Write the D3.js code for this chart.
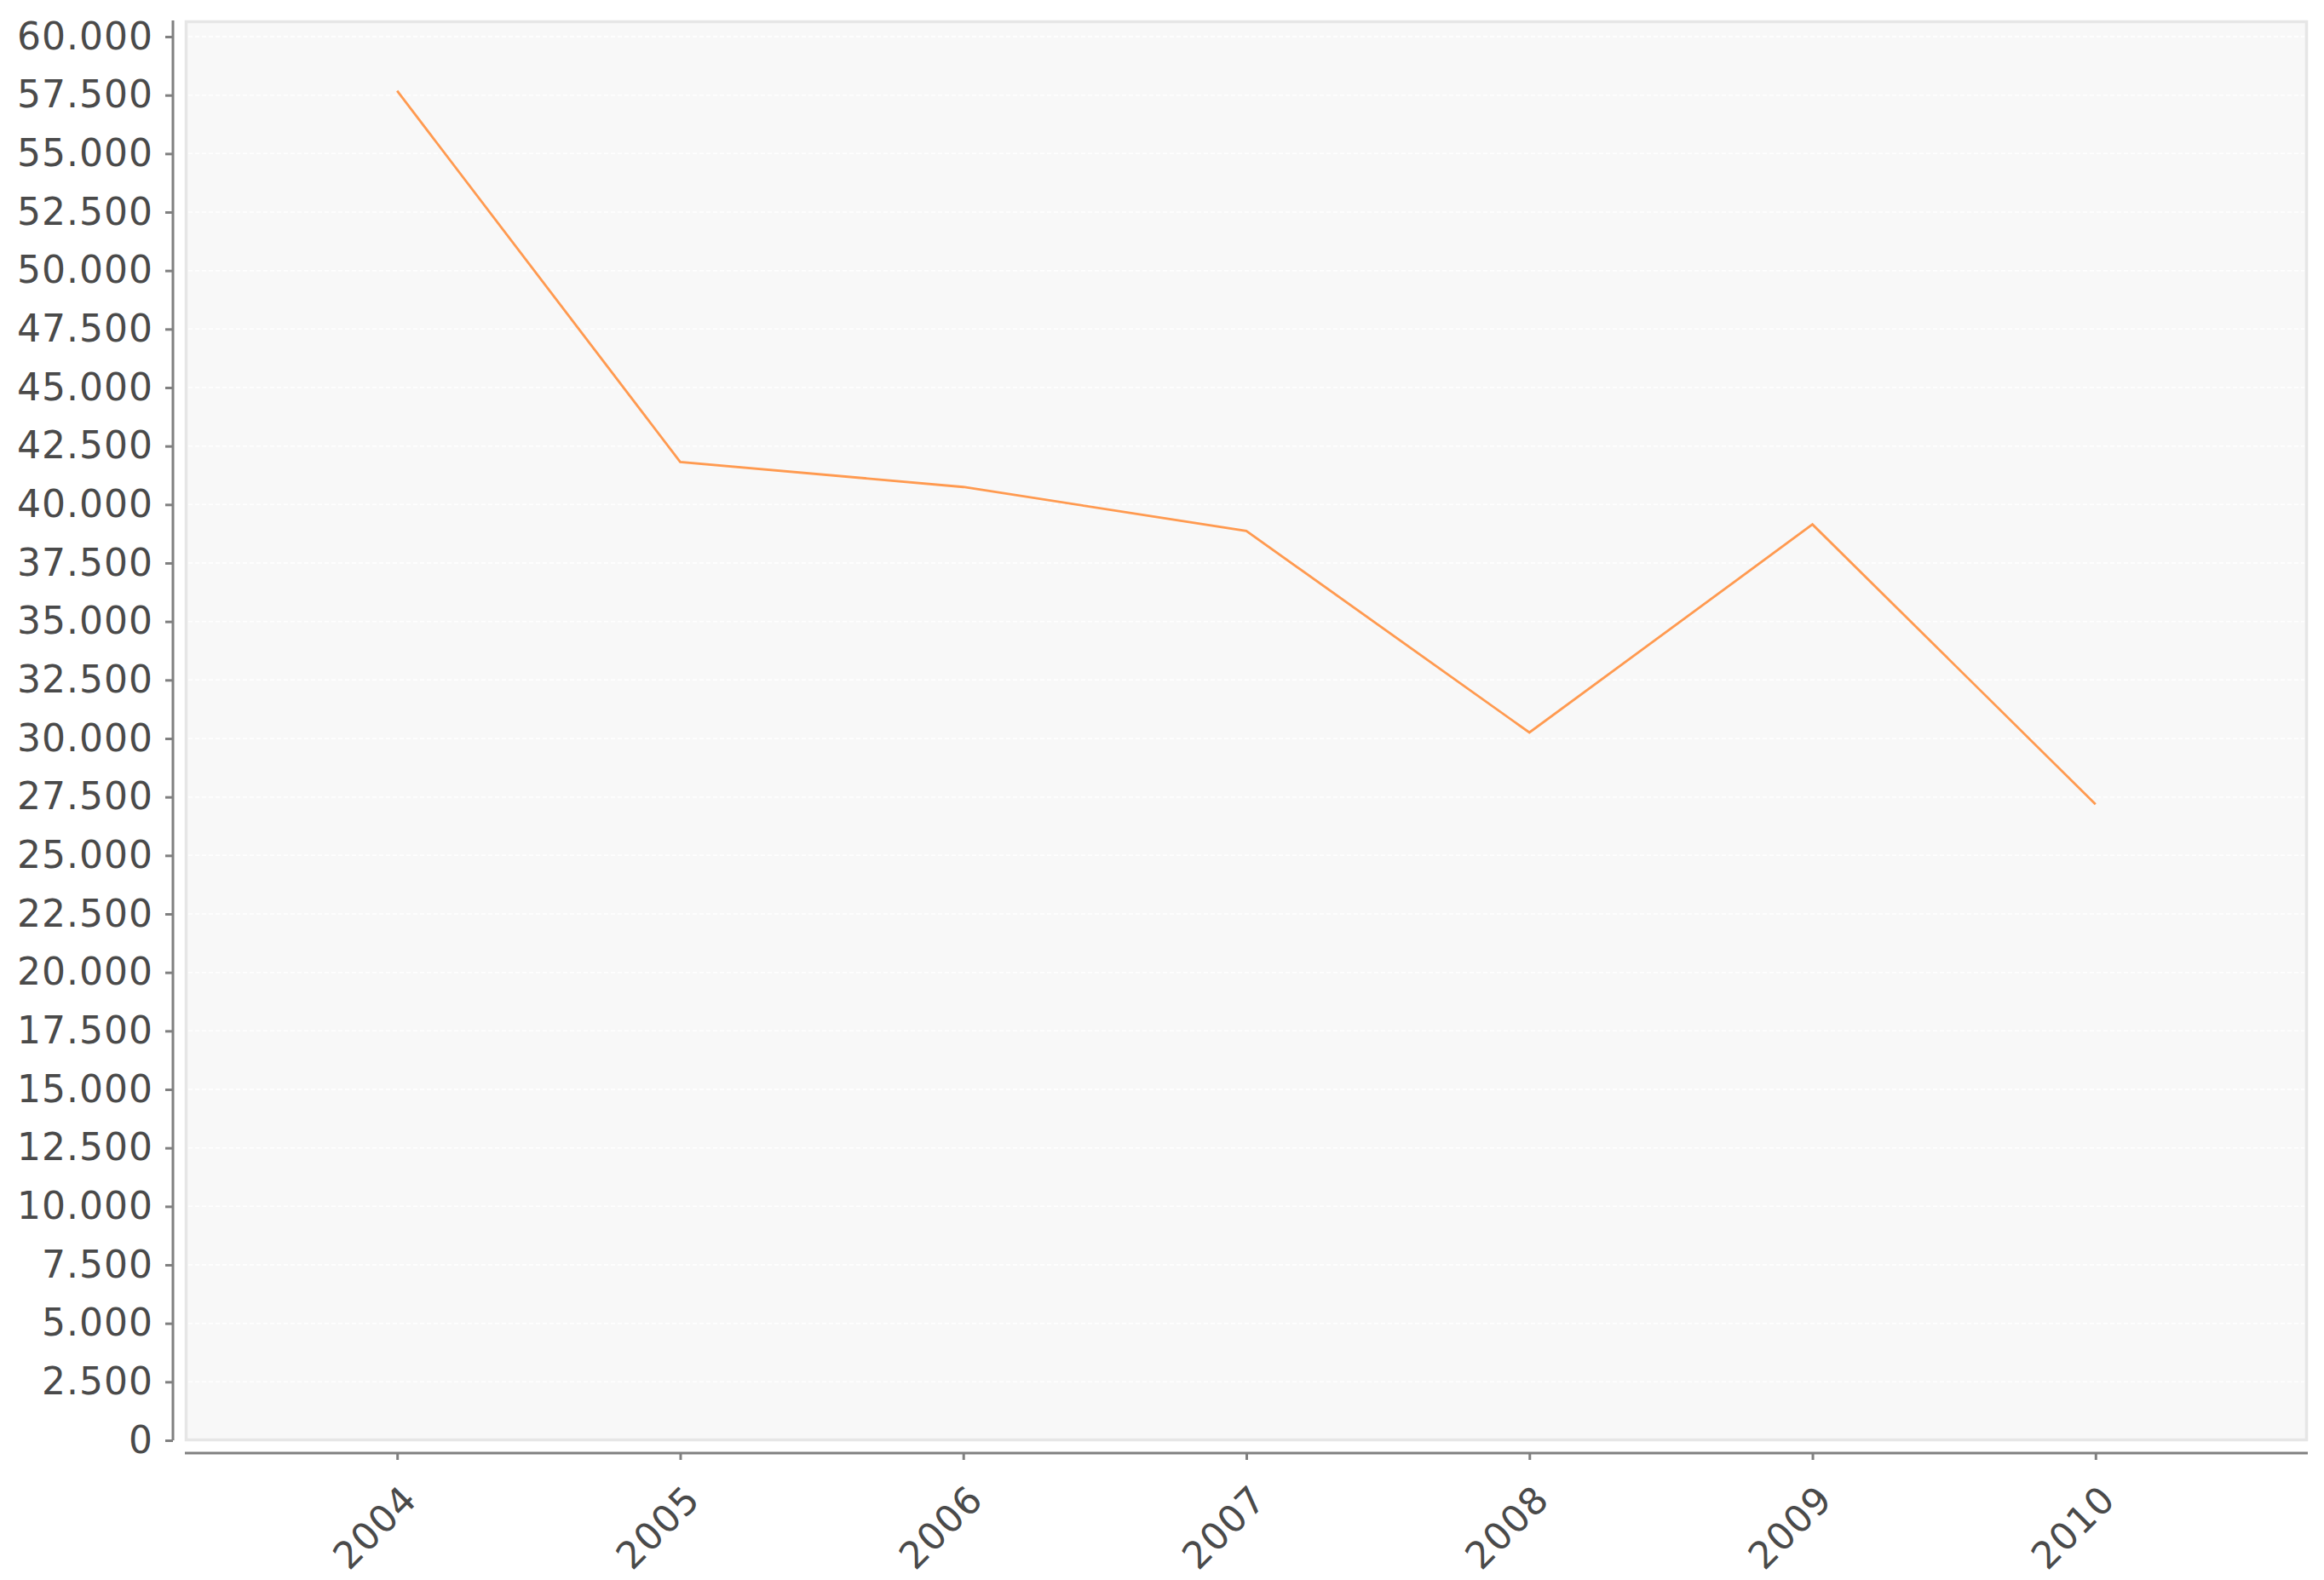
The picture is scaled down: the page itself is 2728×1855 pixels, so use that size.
<!DOCTYPE html>
<html>
<head>
<meta charset="utf-8">
<script src="https://cdn.jsdelivr.net/npm/d3@7"></script>
<style>
  html, body { margin: 0; padding: 0; background: #ffffff; }
  svg { display: block; }
</style>
</head>
<body>
<svg id="chart" width="2728" height="1855"></svg>
<script>
const categories = ["2004", "2005", "2006", "2007", "2008", "2009", "2010"];
const values = [57680, 41820, 40750, 38870, 30255, 39150, 27190];
const yTicks = d3.range(0, 60001, 2500);

const svg = d3.select("#chart");
const plot = { left: 217, right: 2709, top: 24, bottom: 1692 };

const x = d3.scalePoint().domain(categories).range([plot.left, plot.right]).padding(0.75);
const y = d3.scaleLinear().domain([0, 60000]).range([1691, 43]);

const locale = d3.formatLocale({ decimal: ",", thousands: ".", grouping: [3], currency: ["", ""] });
const fmt = locale.format(",d");

// plot background
svg.append("rect")
  .attr("x", plot.left + 1.5).attr("y", plot.top + 1.5)
  .attr("width", plot.right - plot.left - 3).attr("height", plot.bottom - plot.top - 3)
  .attr("fill", "#f8f8f8").attr("stroke", "#e6e6e6").attr("stroke-width", 3.5);

// gridlines
svg.append("g").selectAll("line").data(yTicks.filter(d => d > 0)).join("line")
  .attr("x1", plot.left + 4).attr("x2", plot.right - 4)
  .attr("y1", d => y(d)).attr("y2", d => y(d))
  .attr("stroke", "#ffffff").attr("stroke-width", 1.5).attr("stroke-dasharray", "5,3");

// y axis
const yAxis = svg.append("g").attr("transform", "translate(203,0)")
  .call(d3.axisLeft(y).tickValues(yTicks).tickFormat(fmt).tickSize(9).tickSizeOuter(0).tickPadding(14));
yAxis.select(".domain").attr("stroke", "#808080").attr("stroke-width", 3)
  .attr("d", `M0,${plot.top}V${y(0)}`);
yAxis.selectAll(".tick line").attr("stroke", "#808080").attr("stroke-width", 3);
yAxis.selectAll(".tick text")
  .attr("font-family", "DejaVu Sans").attr("font-size", 44).attr("fill", "#4a4a4a")
  .attr("letter-spacing", 1);

// x axis
const xAxis = svg.append("g").attr("transform", "translate(0,1706)")
  .call(d3.axisBottom(x).tickSize(8).tickSizeOuter(0));
xAxis.select(".domain").attr("stroke", "#808080").attr("stroke-width", 3)
  .attr("d", `M${plot.left},0H${plot.right}`);
xAxis.selectAll(".tick line").attr("stroke", "#808080").attr("stroke-width", 3);
xAxis.selectAll(".tick text")
  .attr("font-family", "DejaVu Sans").attr("font-size", 44).attr("fill", "#4a4a4a")
  .attr("letter-spacing", 1)
  .attr("text-anchor", "end")
  .attr("y", 0).attr("dy", 0)
  .attr("transform", "translate(25,57) rotate(-45)");

// line
const line = d3.line().x((d, i) => x(categories[i])).y(d => y(d));
svg.append("path").datum(values)
  .attr("d", line)
  .attr("fill", "none").attr("stroke", "#ff9a50").attr("stroke-width", 2.8)
  .attr("stroke-linejoin", "miter");
</script>
</body>
</html>
